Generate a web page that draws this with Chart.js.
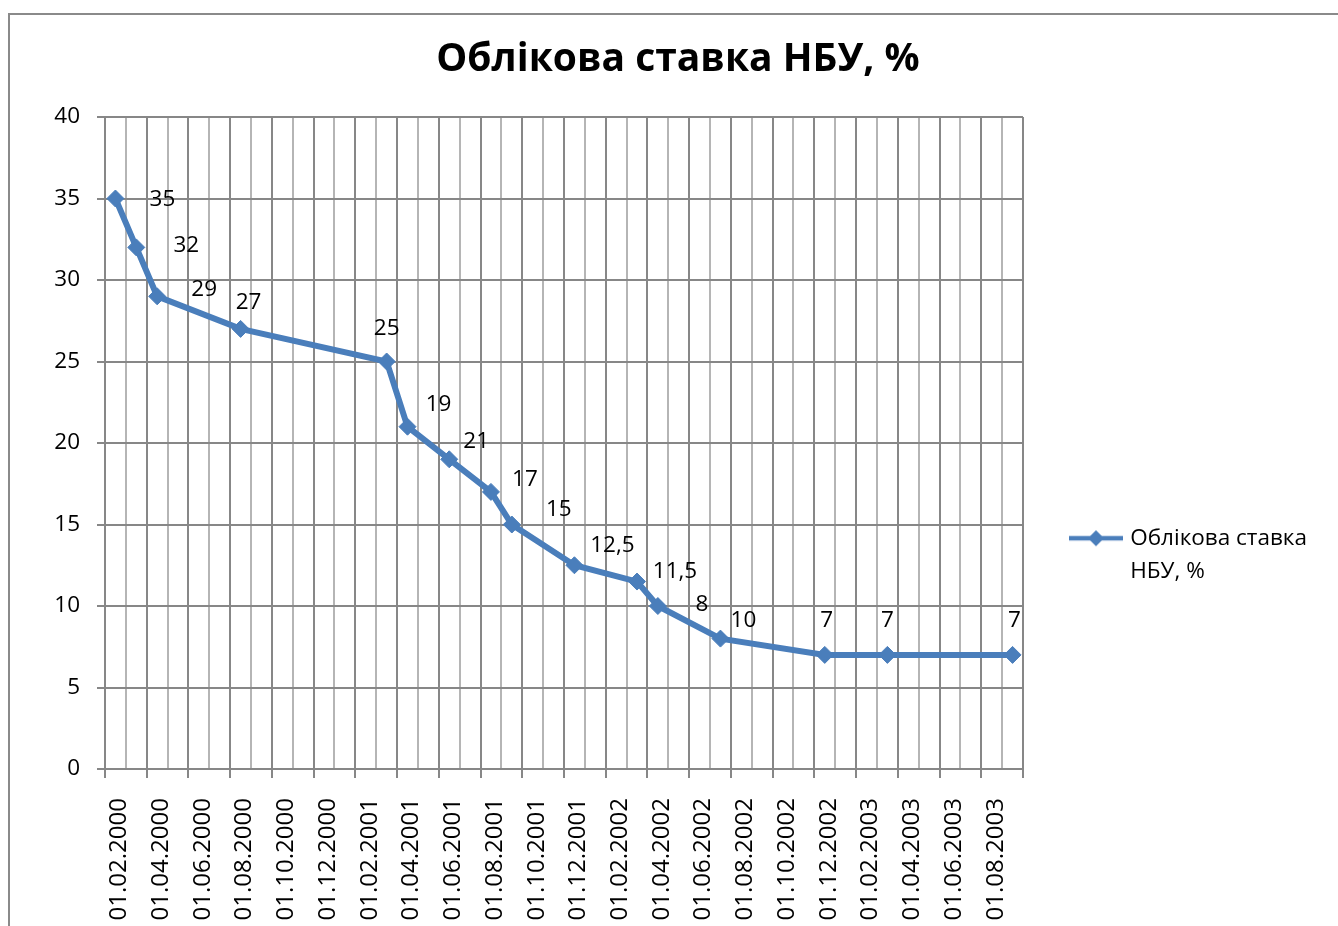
<!DOCTYPE html>
<html lang="uk">
<head>
<meta charset="utf-8">
<title>Облікова ставка НБУ, %</title>
<script src="https://cdn.jsdelivr.net/npm/chart.js@4.4.1/dist/chart.umd.min.js"></script>
<style>
  html, body { margin: 0; padding: 0; background: #fff; }
  #wrap { width: 1338px; height: 926px; }
</style>
</head>
<body>
<div id="wrap"><canvas id="c" width="1338" height="926"></canvas></div>
<script>
  // month categories of the date axis (one per month)
  const months = [
    "01.02.2000", "01.03.2000", "01.04.2000", "01.05.2000", "01.06.2000", "01.07.2000",
    "01.08.2000", "01.09.2000", "01.10.2000", "01.11.2000", "01.12.2000",
    "01.01.2001", "01.02.2001", "01.03.2001", "01.04.2001", "01.05.2001", "01.06.2001",
    "01.07.2001", "01.08.2001", "01.09.2001", "01.10.2001", "01.11.2001", "01.12.2001",
    "01.01.2002", "01.02.2002", "01.03.2002", "01.04.2002", "01.05.2002", "01.06.2002",
    "01.07.2002", "01.08.2002", "01.09.2002", "01.10.2002", "01.11.2002", "01.12.2002",
    "01.01.2003", "01.02.2003", "01.03.2003", "01.04.2003", "01.05.2003", "01.06.2003",
    "01.07.2003", "01.08.2003", "01.09.2003"
  ];
  // rate changes
  const rateMonths = [
    "01.02.2000", "01.03.2000", "01.04.2000", "01.08.2000", "01.03.2001", "01.04.2001",
    "01.06.2001", "01.08.2001", "01.09.2001", "01.12.2001", "01.03.2002", "01.04.2002",
    "01.07.2002", "01.12.2002", "01.03.2003", "01.09.2003"
  ];
  const rates = [35, 32, 29, 27, 25, 21, 19, 17, 15, 12.5, 11.5, 10, 8, 7, 7, 7];
  // data label texts as printed on the chart
  const pointLabels = ["35", "32", "29", "27", "25", "19", "21", "17", "15", "12,5", "11,5", "8", "10", "7", "7", "7"];
  const yTicks = [0, 5, 10, 15, 20, 25, 30, 35, 40];

  const seriesName = ["Облікова ставка", "НБУ, %"];
  const titleText = "Облікова ставка НБУ, %";

  /* ---- styles ---- */
  const BLUE = "#4a7ebb", DARK = "#878787", LIGHT = "#b5b5b5";
  const FONT = "'Open Sans', 'Noto Sans', sans-serif";
  // label offsets from their point (px)
  const labelShift = [[47, 1], [50, -2], [47, -7], [8, -26], [0, -33], [31, -22], [27, -18], [34, -12],
    [47, -15], [38, -20], [38, -10], [44, -1], [23, -18], [2, -34], [0, -34], [2, -34]];

  // legend sample: line with a diamond
  const sample = document.createElement("canvas");
  sample.width = 54; sample.height = 20;
  (function () {
    const g = sample.getContext("2d");
    g.strokeStyle = BLUE; g.lineWidth = 4.5;
    g.beginPath(); g.moveTo(0, 10); g.lineTo(54, 10); g.stroke();
    g.fillStyle = BLUE;
    g.beginPath(); g.moveTo(27 - 8, 10); g.lineTo(27, 2); g.lineTo(27 + 8, 10); g.lineTo(27, 18); g.closePath(); g.fill();
  })();

  const frame = {
    id: "frame",
    afterLayout(chart) {
      // title is centred over the whole chart box, not only the canvas part
      chart.titleBlock.left = 39;
    },
    beforeDraw(chart) {
      const c = chart.ctx;
      c.save();
      c.strokeStyle = "#8a8a8a"; c.lineWidth = 2;
      c.strokeRect(9, 14, 1500, 1200);
      c.restore();
    }
  };

  const valueLabels = {
    id: "valueLabels",
    afterDatasetsDraw(chart) {
      const c = chart.ctx;
      const meta = chart.getDatasetMeta(0);
      c.save();
      c.font = "22.5px " + FONT;
      c.fillStyle = "#000";
      c.textAlign = "center";
      c.textBaseline = "middle";
      meta.data.forEach((pt, i) => {
        const s = labelShift[i] || [0, -30];
        c.fillText(pointLabels[i], pt.x + s[0], pt.y + s[1]);
      });
      c.restore();
    }
  };

  const isMajor = (ctx) => ctx.index === undefined || ctx.index % 2 === 0;

  new Chart(document.getElementById("c"), {
    type: "line",
    data: {
      labels: months,
      datasets: [{
        label: seriesName,
        data: rateMonths.map((m, i) => ({ x: m, y: rates[i] })),
        borderColor: BLUE,
        backgroundColor: BLUE,
        borderWidth: 6,
        pointStyle: "rectRot",
        pointRadius: 8.5,
        pointBorderWidth: 1,
        pointBackgroundColor: BLUE,
        pointBorderColor: BLUE,
        tension: 0,
        fill: false
      }]
    },
    options: {
      responsive: false,
      animation: false,
      events: [],
      layout: { padding: { left: 0, right: 21, top: 0, bottom: 0 } },
      plugins: {
        title: {
          display: true,
          text: titleText,
          color: "#000",
          font: { family: FONT, size: 39, weight: "bold", lineHeight: 1.2 },
          padding: { top: 36, bottom: 34.2 }
        },
        legend: {
          display: true,
          position: "right",
          title: { display: true, text: "", padding: { top: 181, bottom: 0 } },
          labels: {
            color: "#000",
            font: { family: FONT, size: 22.5, lineHeight: 1.5 },
            usePointStyle: true,
            pointStyleWidth: 46,
            padding: 50,
            generateLabels: () => [{
              text: seriesName,
              pointStyle: sample,
              fillStyle: BLUE,
              strokeStyle: BLUE,
              lineWidth: 0,
              datasetIndex: 0,
              fontColor: "#000"
            }]
          }
        },
        tooltip: { enabled: false }
      },
      scales: {
        x: {
          type: "category",
          offset: true,
          afterFit: (s) => { s.height = 157; },
          grid: {
            offset: true,
            color: (ctx) => isMajor(ctx) ? DARK : LIGHT,
            lineWidth: 2,
            tickLength: 9,
            tickColor: (ctx) => isMajor(ctx) ? DARK : "rgba(0,0,0,0)",
            tickWidth: 2
          },
          border: { color: DARK, width: 2 },
          ticks: {
            autoSkip: false,
            minRotation: 90,
            maxRotation: 90,
            padding: 20,
            labelOffset: 4,
            color: "#000",
            font: { family: FONT, size: 24 },
            callback: function (value, index) {
              return index % 2 === 0 ? this.getLabelForValue(value) : "";
            }
          }
        },
        y: {
          min: 0,
          max: 40,
          afterFit: (s) => { s.width = 105; },
          afterBuildTicks: (s) => { s.ticks = yTicks.map(v => ({ value: v })); },
          grid: { color: DARK, lineWidth: 2, tickLength: 8 },
          border: { color: DARK, width: 2 },
          ticks: {
            padding: 17,
            color: "#000",
            font: { family: FONT, size: 22.5 }
          }
        }
      }
    },
    plugins: [frame, valueLabels]
  });
</script>
</body>
</html>
